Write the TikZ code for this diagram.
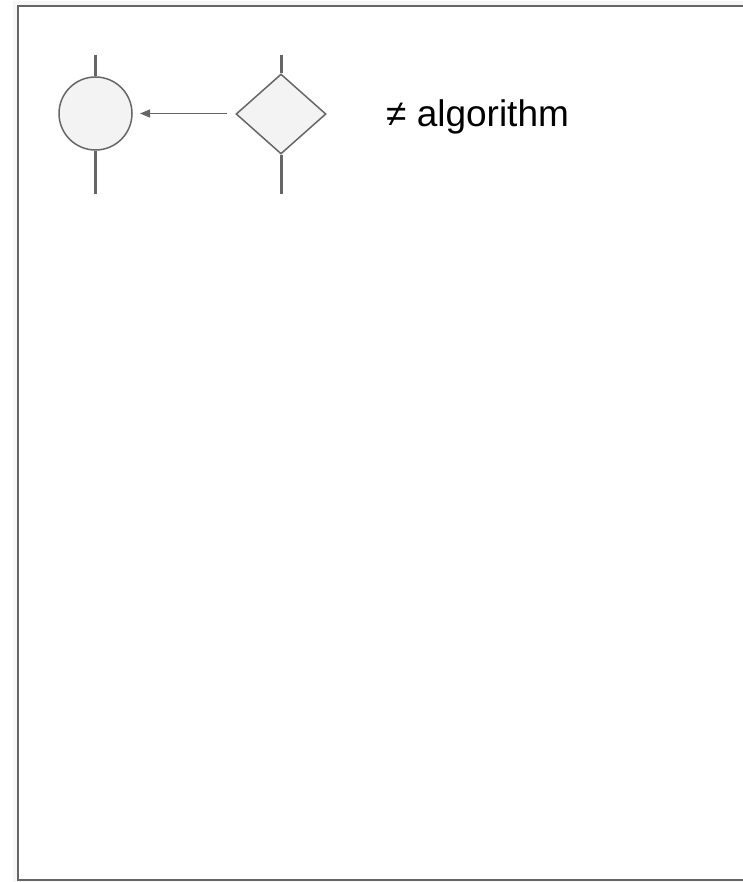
\documentclass[tikz,border=0pt]{standalone}
\usepackage{fontspec}
\setmainfont{Liberation Sans}
\usetikzlibrary{shapes.geometric,arrows.meta}
\definecolor{edge}{HTML}{666666}
\definecolor{shapefill}{HTML}{F3F3F3}
\begin{document}
\begin{tikzpicture}[x=1pt,y=-1pt,
  shapeline/.style={draw=edge,line width=1.5pt,fill=shapefill},
  stub/.style={draw=edge,line width=3pt},
  flow/.style={draw=edge,line width=1.3pt,-{Triangle[length=10pt,width=8pt]}},
  label/.style={font=\fontsize{37}{40}\selectfont,anchor=base west,inner sep=0pt}]
\useasboundingbox (0,0) rectangle (743,882);
% frame with soft shadow
\fill[black!6] (14.5,3) rectangle (750,885);
\fill[black!3] (13,1.5) rectangle (750,885);
\fill[white] (17.5,6) rectangle (750,880);
\draw[edge,line width=2pt] (750,6) -- (17.5,6) -- (17.5,880) -- (750,880);
% circle
\node[shapeline,circle,minimum size=73pt,inner sep=0pt] (circ) at (95.5,113.5) {};
\coordinate (ctop) at (95.5,55);
\coordinate (cbot) at (95.5,194);
\draw[stub] (ctop) -- (circ.north);
\draw[stub] (circ.south) -- (cbot);
% diamond
\node[shapeline,diamond,minimum width=90pt,minimum height=80pt,inner sep=0pt] (dia) at (281,114) {};
\coordinate (dtop) at (281,55);
\coordinate (dbot) at (281,194);
\draw[stub] (dtop) -- (dia.north);
\draw[stub] (dia.south) -- (dbot);
% arrow
\coordinate (astart) at (227,113.5);
\coordinate (aend) at (140,113.5);
\draw[flow] (astart) -- (aend);
% text
\node[label] (txt) at (386,126.5) {≠ algorithm};
\end{tikzpicture}
\end{document}
